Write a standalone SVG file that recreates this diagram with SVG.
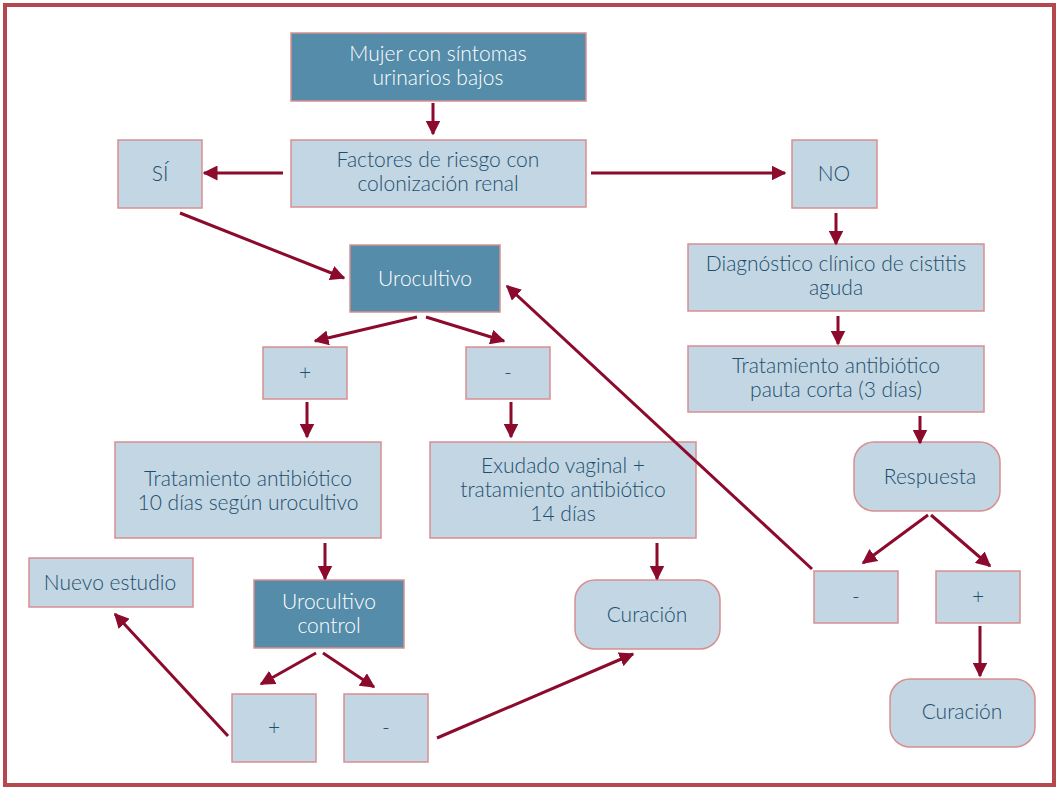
<svg xmlns="http://www.w3.org/2000/svg" width="1059" height="789" viewBox="0 0 1059 789">
<style>
.d{fill:#548caa;stroke:#d88f90;stroke-width:1.5}
.l{fill:#c3d6e3;stroke:#d88f90;stroke-width:1.5}
text{font-family:Lato,"Open Sans","Liberation Sans",sans-serif;font-size:21px;font-weight:300;text-anchor:middle}
.tw{fill:#ffffff}
.tb{fill:#1d4f6e}
.c line{stroke:#8c0a2c;stroke-width:3;marker-end:url(#ah)}
</style>
<defs>
<marker id="ah" viewBox="0 0 10 10" refX="9" refY="5" markerWidth="5" markerHeight="5" orient="auto" markerUnits="strokeWidth">
<path d="M0,0 L10,5 L0,10 z" fill="#8c0a2c"/>
</marker>
</defs>
<rect x="0" y="0" width="1059" height="789" fill="#ffffff"/>
<rect x="5" y="5" width="1049" height="780" fill="none" stroke="#b5474f" stroke-width="4"/>
<g id="n1"><rect class="d" x="291" y="33" width="295" height="68"/><text class="tw" x="438" y="61">Mujer con síntomas</text><text class="tw" x="438" y="85">urinarios bajos</text></g>
<g id="n2"><rect class="l" x="291" y="140" width="295" height="67"/><text class="tb" x="438" y="167">Factores de riesgo con</text><text class="tb" x="438" y="191">colonización renal</text></g>
<g id="n3"><rect class="l" x="118" y="140" width="84" height="68"/><text class="tb" x="160" y="181">SÍ</text></g>
<g id="n4"><rect class="l" x="792" y="140" width="85" height="68"/><text class="tb" x="834" y="181">NO</text></g>
<g id="n5"><rect class="d" x="350" y="245" width="150" height="67"/><text class="tw" x="425" y="286">Urocultivo</text></g>
<g id="n6"><rect class="l" x="688" y="244" width="296" height="67"/><text class="tb" x="836" y="271">Diagnóstico clínico de cistitis</text><text class="tb" x="836" y="295">aguda</text></g>
<g id="n7"><rect class="l" x="688" y="346" width="296" height="66"/><text class="tb" x="836" y="373">Tratamiento antibiótico</text><text class="tb" x="836" y="397">pauta corta (3 días)</text></g>
<g id="n8"><rect class="l" x="263" y="347" width="84" height="52"/><text class="tb" x="305" y="380">+</text></g>
<g id="n9"><rect class="l" x="466" y="347" width="84" height="52"/><text class="tb" x="508" y="380">-</text></g>
<g id="n10"><rect class="l" x="115" y="442" width="266" height="96"/><text class="tb" x="248" y="486">Tratamiento antibiótico</text><text class="tb" x="248" y="510">10 días según urocultivo</text></g>
<g id="n11"><rect class="l" x="430" y="442" width="266" height="96"/><text class="tb" x="563" y="473">Exudado vaginal +</text><text class="tb" x="563" y="497">tratamiento antibiótico</text><text class="tb" x="563" y="521">14 días</text></g>
<g id="n12"><rect class="l" x="854" y="442" width="146" height="69" rx="20"/><text class="tb" x="930" y="484">Respuesta</text></g>
<g id="n13"><rect class="l" x="29" y="558" width="164" height="49"/><text class="tb" x="110" y="590">Nuevo estudio</text></g>
<g id="n14"><rect class="d" x="254" y="580" width="150" height="68"/><text class="tw" x="329" y="609">Urocultivo</text><text class="tw" x="329" y="633">control</text></g>
<g id="n15"><rect class="l" x="575" y="580" width="145" height="69" rx="20"/><text class="tb" x="647" y="622">Curación</text></g>
<g id="n16"><rect class="l" x="814" y="571" width="84" height="52"/><text class="tb" x="856" y="604">-</text></g>
<g id="n17"><rect class="l" x="936" y="571" width="84" height="52"/><text class="tb" x="978" y="604">+</text></g>
<g id="n18"><rect class="l" x="232" y="694" width="84" height="68"/><text class="tb" x="274" y="735">+</text></g>
<g id="n19"><rect class="l" x="344" y="694" width="84" height="68"/><text class="tb" x="386" y="735">-</text></g>
<g id="n20"><rect class="l" x="890" y="679" width="145" height="68" rx="20"/><text class="tb" x="962" y="719">Curación</text></g>
<g id="connectors" class="c">
<line x1="433" y1="103" x2="433" y2="134"/>
<line x1="283" y1="173" x2="204" y2="173"/>
<line x1="591" y1="173" x2="785" y2="173"/>
<line x1="180" y1="213" x2="344" y2="278"/>
<line x1="836" y1="213" x2="836" y2="244"/>
<line x1="838" y1="316" x2="838" y2="344"/>
<line x1="920" y1="416" x2="920" y2="443"/>
<line x1="417" y1="317" x2="315" y2="341"/>
<line x1="426" y1="317" x2="504" y2="341"/>
<line x1="307" y1="402" x2="307" y2="437"/>
<line x1="511" y1="402" x2="511" y2="437"/>
<line x1="325" y1="543" x2="325" y2="579"/>
<line x1="657" y1="543" x2="657" y2="579"/>
<line x1="928" y1="515" x2="863" y2="563"/>
<line x1="931" y1="515" x2="990" y2="566"/>
<line x1="980" y1="626" x2="980" y2="676"/>
<line x1="812" y1="569" x2="507" y2="286"/>
<line x1="316" y1="653" x2="261" y2="684"/>
<line x1="323" y1="653" x2="374" y2="687"/>
<line x1="228" y1="736" x2="115" y2="614"/>
<line x1="437" y1="738" x2="633" y2="654"/>
</g>
</svg>
